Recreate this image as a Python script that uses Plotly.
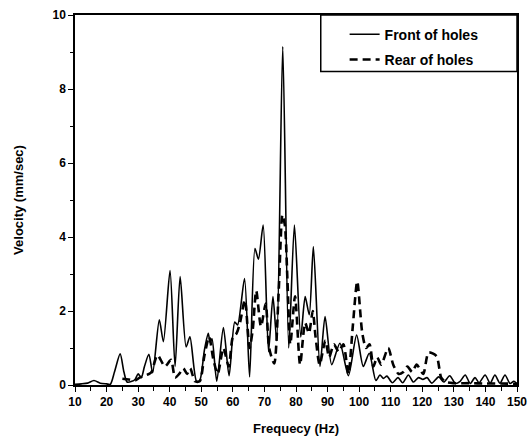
import plotly.graph_objects as go

# Front of holes (solid)
front_hz = [10, 12, 14, 16, 18, 20, 21.2, 22.5, 24.3, 25.5, 26.5, 28, 29, 30, 31, 32, 33.4, 34.6,
            36.7, 38, 40.1, 41.7, 43.3, 45.2, 46.4, 48.5, 49.5, 51, 52.2, 52.8, 53.4, 54.9, 57,
            58.8, 60.6, 61.5, 63.7, 65.3, 67, 68.1, 69.6, 71.3, 72.7, 73.9, 75.8, 77.7, 79.5,
            81.5, 82.9, 84.2, 85.5, 87.6, 89.2, 91.3, 93.9, 96.6, 99.2, 101.3, 103.2, 105.3,
            106.6, 107.7, 108.8, 110.5, 112.3, 113.8, 115.6, 117.2, 118.8, 120.2, 121.5, 123,
            125.2, 126.8, 128.7, 130.5, 132, 133.6, 135.2, 136.7, 138, 139.9, 141.5, 143, 144.6,
            146.2, 147.8, 149, 150]
front_v = [0.02, 0.03, 0.05, 0.12, 0.05, 0.03, 0.02, 0.35, 0.84, 0.35, 0.08, 0.1, 0.15, 0.3, 0.2,
           0.5, 0.83, 0.33, 1.76, 1.17, 3.09, 0.5, 2.93, 1.03, 1.3, 0.1, 0.12, 0.95, 1.4, 1.15,
           1.25, 0.1, 1.55, 0.25, 1.7, 1.62, 2.88, 0.22, 3.69, 3.4, 4.32, 0.9, 2.39, 1.2, 9.15,
           1.0, 4.32, 1.3, 2.39, 1.9, 3.74, 0.5, 1.85, 0.55, 1.13, 0.25, 1.35, 0.5, 0.86, 0.12,
           0.27, 0.18, 0.24, 0.06, 0.2, 0.06, 0.27, 0.08, 0.2, 0.15, 0.2, 0.05, 0.22, 0.08, 0.25,
           0.04, 0.1, 0.27, 0.04, 0.2, 0.06, 0.27, 0.05, 0.27, 0.05, 0.27, 0.04, 0.1, 0.03]

# Rear of holes (dashed)
rear_hz = [25, 27, 29, 30.5, 32, 33.5, 34.3, 36.1, 38.5, 40.4, 41.7, 43, 44.3, 45.5, 46.5, 48,
           49.5, 51, 52.5, 53.8, 55.2, 57, 58.7, 60, 61.2, 62.3, 63.8, 65.3, 66.3, 67.4, 68.9,
           70.4, 71.5, 73.1, 74.5, 75.7, 76.5, 77.3, 78.2, 79.7, 81.3, 82.9, 84.1, 85.3, 86.2,
           87.5, 89.3, 90.5, 92, 93.5, 95, 96.6, 98, 99.4, 101, 102.2, 103.3, 104.5, 105.7, 107,
           109.2, 110.8, 112.5, 114, 115.3, 116.8, 118.2, 120.3, 122, 124.5, 126, 127.5, 130,
           135, 140, 145, 150]
rear_v = [0.17, 0.15, 0.12, 0.2, 0.25, 0.3, 0.36, 0.81, 0.5, 0.68, 0.2, 0.3, 0.45, 0.3, 0.45, 0.1,
          0.1, 0.8, 1.3, 0.7, 0.3, 1.0, 0.5, 1.3, 1.4, 1.7, 2.3, 1.0, 1.5, 2.55, 1.58, 2.2, 1.0,
          0.58, 2.5, 4.6, 4.3, 2.8, 1.1, 2.4, 0.55, 1.68, 1.4, 2.0, 1.3, 0.55, 1.2, 0.75, 1.1,
          0.9, 1.1, 0.3, 1.6, 2.8, 1.4, 1.0, 1.1, 0.5, 0.75, 0.55, 1.0, 0.55, 0.3, 0.35, 0.5,
          0.35, 0.55, 0.3, 0.88, 0.78, 0.2, 0.08, 0.05, 0.05, 0.04, 0.04, 0.03]

x_ticks = [10, 20, 30, 40, 50, 60, 70, 80, 90, 100, 110, 120, 130, 140, 150]
y_ticks = [0, 2, 4, 6, 8, 10]

FONT = "Liberation Sans, Arial, sans-serif"

fig = go.Figure()
fig.add_trace(go.Scatter(x=front_hz, y=front_v, mode="lines", name="Front of holes",
                         legendgroup="a",
                         line=dict(color="black", width=1.6, shape="spline", smoothing=0.7)))
fig.add_trace(go.Scatter(x=rear_hz, y=rear_v, mode="lines", name="Rear of holes",
                         legendgroup="b",
                         line=dict(color="black", width=2.6, dash="8px,5px",
                                   shape="spline", smoothing=0.7)))

axis_common = dict(showline=True, linecolor="black", linewidth=1.5, mirror=True,
                   ticks="outside", tickcolor="black", tickwidth=1.2, ticklen=5,
                   showgrid=False, zeroline=False, automargin=False,
                   tickfont=dict(family=FONT, size=12, color="black"))

fig.update_xaxes(range=[10, 150], tickmode="array", tickvals=x_ticks,
                 ticktext=["<b>%d</b>" % v for v in x_ticks],
                 minor=dict(ticks="outside", dtick=5, tick0=0, ticklen=4, tickcolor="black"),
                 title=dict(text="<b>Frequecy (Hz)</b>", standoff=16,
                            font=dict(family=FONT, size=13, color="black")),
                 **axis_common)
fig.update_yaxes(range=[0, 10], tickmode="array", tickvals=y_ticks,
                 ticktext=["<b>%d</b>" % v for v in y_ticks],
                 minor=dict(ticks="outside", dtick=1, tick0=0, ticklen=3, tickcolor="black"),
                 title=dict(text="<b>Velocity (mm/sec)</b>", standoff=26,
                            font=dict(family=FONT, size=13, color="black")),
                 **axis_common)

# legend frame (drawn as a box, legend entries placed inside)
fig.add_shape(type="rect", xref="paper", yref="paper", x0=0.556, x1=1.0, y0=0.847, y1=1.0,
              line=dict(color="black", width=1.5), fillcolor="rgba(0,0,0,0)", layer="above")

fig.update_layout(
    width=530, height=441,
    margin=dict(l=75, r=13, t=15, b=56),
    paper_bgcolor="white", plot_bgcolor="white",
    showlegend=True,
    legend=dict(x=0.61, y=0.99, xanchor="left", yanchor="top",
                bgcolor="rgba(0,0,0,0)", borderwidth=0,
                traceorder="grouped", tracegroupgap=4, itemwidth=30,
                font=dict(family=FONT, size=14, color="black", weight="bold")),
)

fig.write_html("out.html")
